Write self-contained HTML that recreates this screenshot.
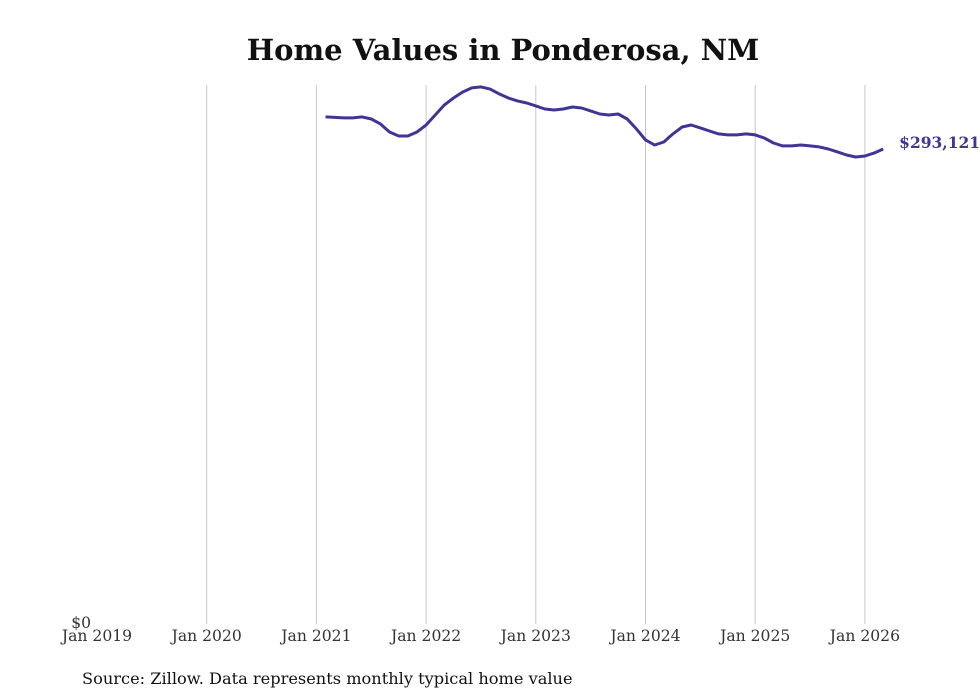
<!DOCTYPE html>
<html><head><meta charset="utf-8"><style>
body{margin:0;background:#fff;}
svg{display:block;font-family:"DejaVu Serif","Liberation Serif",serif;}
</style></head><body>
<svg id="chart" width="980" height="699">
<text x="503" y="60" text-anchor="middle" font-size="29" font-weight="bold" fill="#111">Home Values in Ponderosa, NM</text>
<g id="grid"></g>
<g id="xlabels"></g>
<text x="91" y="628" text-anchor="end" font-size="15.5" fill="#333">$0</text>
<path id="line" fill="none" stroke="#3f3597" stroke-width="3" stroke-linejoin="round"></path>
<text id="endlabel" font-size="15.5" font-weight="bold" fill="#3f3597"></text>
<text x="82" y="684" font-size="16.2" fill="#111">Source: Zillow. Data represents monthly typical home value</text>
</svg>
<script>
const yearLabels=["Jan 2019","Jan 2020","Jan 2021","Jan 2022","Jan 2023","Jan 2024","Jan 2025","Jan 2026"];
const startMonthIndex=25; // Feb 2021 (months since Jan 2019)
const values=[312900,312600,312300,312300,312900,311600,308600,303600,301100,301100,303600,307900,314100,320300,324600,328300,330800,331400,330100,327100,324600,322800,321500,319700,317800,317200,317800,319000,318400,316600,314700,314100,314700,311600,305500,298700,295600,297400,302400,306700,307900,306100,304200,302400,301800,301800,302400,301800,299900,296800,295000,295000,295600,295000,294400,293100,291300,289400,288200,288800,290600,293121];
const yMax=332600;
const x0=97,pxPerMonth=109.7/12,y0=624,yTop=85;
const xs=m=>x0+m*pxPerMonth;
const ys=v=>y0-(v/yMax)*(y0-yTop);
const NS="http://www.w3.org/2000/svg";
const grid=document.getElementById('grid'),xl=document.getElementById('xlabels');
yearLabels.forEach((lab,i)=>{
  const x=xs(i*12);
  if(i>0){const l=document.createElementNS(NS,'line');
  l.setAttribute('x1',x);l.setAttribute('x2',x);l.setAttribute('y1',yTop);l.setAttribute('y2',y0);
  l.setAttribute('stroke','#c8c8c8');l.setAttribute('stroke-width','1');
  
  
  grid.appendChild(l);}
  const t=document.createElementNS(NS,'text');
  t.setAttribute('x',x);t.setAttribute('y',641);t.setAttribute('text-anchor','middle');
  t.setAttribute('font-size','15.6');t.setAttribute('fill','#333');t.textContent=lab;
  
  
  xl.appendChild(t);
});
let d='';
values.forEach((v,i)=>{d+=(i?'L':'M')+xs(startMonthIndex+i).toFixed(1)+','+ys(v).toFixed(1);});
document.getElementById('line').setAttribute('d',d);
const last=values[values.length-1],el=document.getElementById('endlabel');
el.setAttribute('x',xs(startMonthIndex+values.length-1)+16);
el.setAttribute('y',ys(last)-1);
el.textContent='$'+last.toLocaleString('en-US');
</script>
</body></html>
